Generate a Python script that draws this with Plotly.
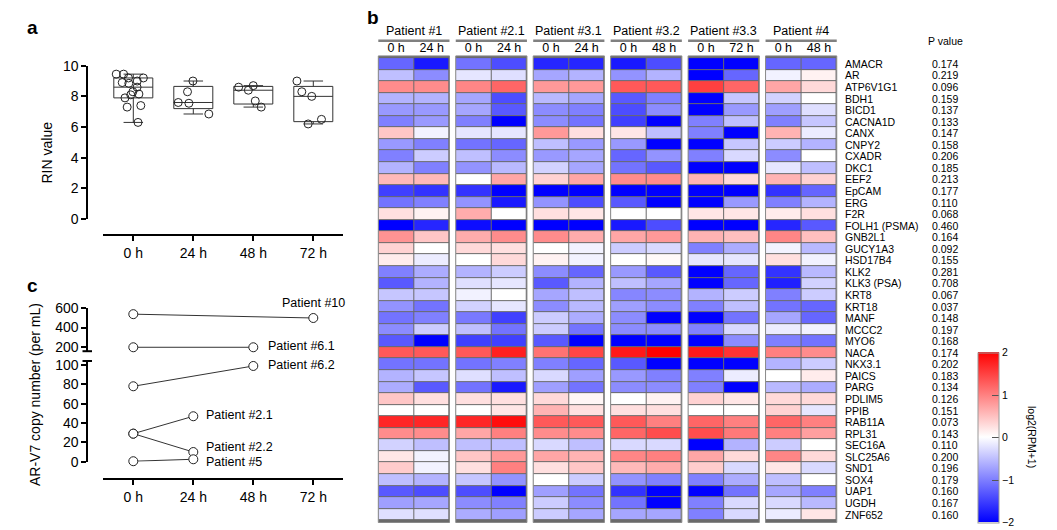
import plotly.graph_objects as go

W, H = 1057, 530
def fx(p): return p / W
def fy(p): return 1 - p / H

FONT = "Liberation Sans, Arial, sans-serif"

# ---------------- Panel a data ----------------
times = ['0 h', '24 h', '48 h', '72 h']
rin_0h = [9.45, 9.2, 8.9, 8.85, 9.0, 9.2, 9.45, 8.3, 8.1, 8.15, 8.6, 7.9, 7.4, 7.3, 6.3]
rin_24h = [9.0, 8.3, 7.6, 7.55, 6.85]
rin_48h = [8.6, 8.4, 8.7, 7.7, 7.3]
rin_72h = [9.0, 8.3, 8.0, 6.5, 6.2]

# ---------------- Panel c data ----------------
arv7_patients = ['Patient #10', 'Patient #6.1', 'Patient #6.2', 'Patient #2.1', 'Patient #2.2', 'Patient #5']
arv7_times = [['0 h', '72 h'], ['0 h', '48 h'], ['0 h', '48 h'], ['0 h', '24 h'], ['0 h', '24 h'], ['0 h', '24 h']]
arv7_values = [[540, 500], [195, 195], [78, 99], [29, 47], [29, 10], [0.5, 2.5]]

# ---------------- Panel b data ----------------
genes = ['AMACR', 'AR', 'ATP6V1G1', 'BDH1', 'BICD1', 'CACNA1D', 'CANX', 'CNPY2', 'CXADR', 'DKC1',
         'EEF2', 'EpCAM', 'ERG', 'F2R', 'FOLH1 (PSMA)', 'GNB2L1', 'GUCY1A3', 'HSD17B4', 'KLK2', 'KLK3 (PSA)',
         'KRT8', 'KRT18', 'MANF', 'MCCC2', 'MYO6', 'NACA', 'NKX3.1', 'PAICS', 'PARG', 'PDLIM5',
         'PPIB', 'RAB11A', 'RPL31', 'SEC16A', 'SLC25A6', 'SND1', 'SOX4', 'UAP1', 'UGDH', 'ZNF652']
p_values = ['0.174', '0.219', '0.096', '0.159', '0.137', '0.133', '0.147', '0.158', '0.206', '0.185',
            '0.213', '0.177', '0.110', '0.068', '0.460', '0.164', '0.092', '0.155', '0.281', '0.708',
            '0.067', '0.037', '0.148', '0.197', '0.168', '0.174', '0.202', '0.183', '0.134', '0.126',
            '0.151', '0.073', '0.143', '0.110', '0.200', '0.196', '0.179', '0.160', '0.167', '0.160']
patients = ['Patient #1', 'Patient #2.1', 'Patient #3.1', 'Patient #3.2', 'Patient #3.3', 'Patient #4']
patient_times = [['0 h', '24 h'], ['0 h', '24 h'], ['0 h', '24 h'], ['0 h', '48 h'], ['0 h', '72 h'], ['0 h', '48 h']]

expr_p1 = [[-1.2, -1.8], [-0.5, -0.9], [0.9, 0.9], [-0.6, -0.6], [-0.8, -0.8], [-1.0, -0.8], [0.45, -0.1],
           [-0.8, -1.0], [-1.0, -0.4], [-0.6, -1.0], [0.55, 0.55], [-1.5, -1.6], [-1.1, -1.0], [0.25, 0.1],
           [-2.0, -1.7], [0.85, 0.45], [0.35, 0.0], [0.15, -0.15], [-1.0, -0.65], [-1.3, -0.6],
           [-0.45, -0.45], [-0.85, -1.1], [-1.1, -1.0], [-0.9, -0.4], [-1.3, -2.0], [1.3, 1.3],
           [-1.1, -1.1], [-0.6, -0.45], [-0.65, -1.3], [0.45, 0.25], [0.0, 0.0], [1.7, 1.7],
           [0.9, 0.9], [-0.35, -0.5], [0.2, -0.1], [0.4, -0.1], [-0.5, -0.6], [-1.3, -1.4],
           [-0.75, -0.7], [-0.25, -0.25]]
expr_p21 = [[-1.1, -1.4], [-0.2, -0.25], [0.95, 1.2], [-0.7, -1.4], [-0.7, -1.3], [-1.0, -2.0], [-0.2, -0.2],
            [-1.1, -1.2], [-0.5, -0.9], [-0.85, -0.55], [0.0, 0.7], [-1.6, -2.0], [-0.85, -1.8], [0.65, 0.0],
            [-1.9, -2.0], [0.65, 0.9], [0.3, 0.25], [0.0, 0.3], [-0.6, -0.4], [-0.25, -0.2],
            [-0.1, 0.0], [-0.35, -0.2], [-1.05, -1.5], [-0.5, -1.1], [-1.5, -1.5], [1.3, 1.75],
            [-1.1, -1.0], [-0.25, -0.5], [-1.1, -1.8], [0.25, 0.25], [0.0, 0.2], [1.7, 1.9],
            [0.7, 1.0], [-0.5, -0.5], [0.45, 0.8], [0.25, 1.0], [-0.45, -0.85], [-1.4, -2.0],
            [-0.9, -1.0], [-0.65, -0.75]]
expr_p31 = [[-1.7, -1.7], [-0.7, -0.6], [0.8, 0.8], [-0.55, -0.7], [-0.9, -1.0], [-0.9, -1.1], [0.8, 0.25],
            [-0.5, -0.8], [-0.8, -0.7], [-0.35, -0.7], [0.35, 0.7], [-2.0, -2.0], [-0.85, -1.4], [0.25, 0.2],
            [-2.0, -2.0], [0.9, 0.65], [0.0, -0.1], [0.1, -0.1], [-0.9, -1.2], [-1.3, -0.6],
            [-0.7, -0.5], [-0.9, -0.55], [-0.4, -0.65], [-0.4, -1.1], [-1.3, -2.0], [1.1, 1.45],
            [-1.0, -1.2], [-0.3, -0.75], [-0.75, -1.1], [0.3, 0.07], [0.6, 0.25], [1.3, 1.3],
            [0.9, 0.9], [-0.3, -0.5], [0.7, 0.6], [0.25, 0.45], [0.0, -0.4], [-0.75, -1.1],
            [-0.4, -0.9], [-0.4, -0.7]]
expr_p32 = [[-1.8, -1.4], [-0.85, -0.6], [1.3, 1.3], [-1.3, -1.0], [-1.4, -0.9], [-1.5, -2.0], [0.2, -0.5],
            [-0.8, -2.0], [-1.2, -0.85], [-1.1, -1.3], [0.9, 0.9], [-2.0, -2.0], [-1.3, -2.0], [0.0, 0.0],
            [-1.8, -1.4], [0.7, 0.8], [-0.4, -0.3], [0.0, 0.05], [-0.8, -1.3], [-0.5, -0.7],
            [-0.95, -0.9], [-0.75, -0.9], [-0.9, -2.0], [-0.9, -0.9], [-2.0, -2.0], [1.8, 2.0],
            [-1.3, -2.0], [-0.8, -1.0], [-0.9, -0.9], [0.0, 0.1], [0.25, 0.25], [1.3, 1.0],
            [1.2, 1.4], [-0.3, -0.3], [0.95, 1.0], [0.55, 0.65], [-0.85, -1.0], [-1.6, -2.0],
            [-1.1, -2.0], [-0.7, -0.7]]
expr_p33 = [[-2.0, -2.0], [-2.0, -1.2], [1.5, 1.2], [-2.0, -0.45], [-2.0, -0.8], [-1.0, -0.5], [-1.0, -2.0],
            [-2.0, -0.45], [-1.0, -0.3], [-2.0, -2.0], [0.6, 0.3], [-2.0, -2.0], [-2.0, -0.8], [0.2, 0.2],
            [-2.0, -2.0], [0.6, 0.5], [-1.0, -0.65], [-0.2, -0.2], [-2.0, -1.2], [-2.0, -1.2],
            [-0.6, -0.4], [-1.0, -0.5], [-2.0, -1.1], [-1.0, -0.3], [-2.0, -0.9], [1.8, 1.6],
            [-2.0, -2.0], [-1.0, -0.15], [-1.0, -2.0], [0.35, 0.2], [0.0, 0.0], [1.2, 1.0],
            [1.4, 1.05], [-2.0, -0.6], [0.7, 0.3], [0.4, -0.3], [-1.0, -0.65], [-2.0, -1.1],
            [-1.0, -0.3], [-1.0, -0.3]]
expr_p4 = [[-1.2, -1.2], [-0.1, 0.1], [0.7, 0.3], [-0.35, 0.0], [-0.75, -0.25], [-1.0, -0.45], [0.6, -0.15],
           [-0.4, -0.6], [-0.9, 0.0], [-0.2, -0.5], [0.6, 0.35], [-1.6, -1.2], [-1.0, -0.6], [0.15, 0.25],
           [-1.7, -1.3], [0.95, 0.5], [-0.1, -0.55], [0.25, -0.1], [-1.6, -0.55], [-1.75, -0.35],
           [-1.0, -0.4], [-1.1, -1.2], [-0.7, -1.2], [-0.15, -0.1], [-1.0, -1.1], [1.0, 0.9],
           [-0.6, -0.4], [0.0, 0.15], [-0.55, -0.65], [0.3, 0.3], [0.35, -0.2], [1.2, 1.0],
           [1.0, 0.75], [-0.4, 0.0], [0.95, 0.3], [0.2, -0.3], [-0.5, 0.0], [-0.7, -1.0],
           [-0.3, -0.55], [-0.15, 0.2]]
expr_all = [expr_p1, expr_p21, expr_p31, expr_p32, expr_p33, expr_p4]

fig = go.Figure()

# ---------------- Panel a ----------------
rin_x = []
rin_y = []
for t, vals in zip(times, [rin_0h, rin_24h, rin_48h, rin_72h]):
    rin_x += [t] * len(vals)
    rin_y += vals
fig.add_trace(go.Box(
    x=rin_x, y=rin_y, xaxis='x', yaxis='y',
    boxpoints='all', jitter=0.9, pointpos=0, width=0.65, whiskerwidth=0.5,
    quartilemethod='exclusive',
    fillcolor='rgba(0,0,0,0)', line=dict(color='#333333', width=1),
    marker=dict(symbol='circle-open', size=8, color='#222222', line=dict(width=1)),
    showlegend=False, hoverinfo='skip'))

# ---------------- Panel c ----------------
for name, tt, vv in zip(arv7_patients, arv7_times, arv7_values):
    upper = min(vv) > 100
    fig.add_trace(go.Scatter(
        x=tt, y=vv, xaxis='x2', yaxis='y3' if upper else 'y2',
        mode='lines+markers', cliponaxis=False,
        line=dict(color='#333333', width=1),
        marker=dict(symbol='circle', size=9, color='white', line=dict(color='#222222', width=1)),
        showlegend=False, hoverinfo='skip'))

label_shift = {
    'Patient #10': dict(xshift=0, yshift=15, xanchor='center'),
    'Patient #6.1': dict(xshift=13, yshift=1, xanchor='left'),
    'Patient #6.2': dict(xshift=13, yshift=1, xanchor='left'),
    'Patient #2.1': dict(xshift=11, yshift=1, xanchor='left'),
    'Patient #2.2': dict(xshift=11, yshift=5, xanchor='left'),
    'Patient #5': dict(xshift=11, yshift=-3, xanchor='left'),
}
annotations = []
for name, tt, vv in zip(arv7_patients, arv7_times, arv7_values):
    upper = min(vv) > 100
    s = label_shift[name]
    annotations.append(dict(x=tt[-1], y=vv[-1], xref='x2', yref='y3' if upper else 'y2',
                            text=name, showarrow=False, font=dict(size=12.5, family=FONT, color='black'),
                            xanchor=s['xanchor'], yanchor='middle', xshift=s['xshift'], yshift=s['yshift']))

shapes = []
# axis-break caps for panel c
shapes.append(dict(type='line', xref='paper', yref='y3 domain', x0=fx(82.5), x1=fx(92), y0=0, y1=0,
                   line=dict(color='black', width=2)))
shapes.append(dict(type='line', xref='paper', yref='y2 domain', x0=fx(82.5), x1=fx(92), y0=1, y1=1,
                   line=dict(color='black', width=2)))

# ---------------- Panel b (heatmaps) ----------------
group_left0 = 378.3
group_step = 77.45
group_w = 71.2
hm_top, hm_bot = 55.9, 522.5
for i, (pname, ptimes, expr) in enumerate(zip(patients, patient_times, expr_all)):
    xa = 'x%d' % (i + 3)
    fig.add_trace(go.Heatmap(
        z=expr, x=ptimes, y=genes, xaxis=xa, yaxis='y4', coloraxis='coloraxis',
        xgap=1, ygap=1, hoverinfo='skip'))
    left = group_left0 + i * group_step
    fig.layout['xaxis%d' % (i + 3)] = dict(
        domain=[fx(left), fx(left + group_w)], anchor='y4', side='top', type='category',
        showgrid=False, zeroline=False, showline=False, ticks='', automargin=False,
        tickfont=dict(size=12.5, family=FONT, color='black'), fixedrange=True)
    shapes.append(dict(type='rect', xref=xa + ' domain', yref='y4 domain', x0=0, x1=1, y0=0, y1=1,
                       fillcolor='#6a6a6a', line=dict(width=0), layer='below'))
    shapes.append(dict(type='rect', xref=xa + ' domain', yref='y4 domain', x0=0, x1=1, y0=0, y1=1,
                       fillcolor='rgba(0,0,0,0)', line=dict(color='#8a8a8a', width=1), layer='above'))
    shapes.append(dict(type='line', xref='paper', yref='paper', x0=fx(left), x1=fx(left + group_w),
                       y0=fy(40.7), y1=fy(40.7), line=dict(color='#808080', width=2.5)))
    annotations.append(dict(x=fx(left + group_w / 2), y=fy(31), xref='paper', yref='paper', text=pname,
                            showarrow=False, font=dict(size=12.5, family=FONT, color='black'),
                            xanchor='center', yanchor='middle'))

for g, p in zip(genes, p_values):
    annotations.append(dict(x=fx(842.5), y=g, xref='paper', yref='y4', text=g, showarrow=False,
                            font=dict(size=10.5, family=FONT, color='black'), xanchor='left', yanchor='middle'))
    annotations.append(dict(x=fx(929.5), y=g, xref='paper', yref='y4', text=p, showarrow=False,
                            font=dict(size=10.5, family=FONT, color='black'), xanchor='left', yanchor='middle'))
annotations.append(dict(x=fx(925.5), y=fy(40.5), xref='paper', yref='paper', text='P value', showarrow=False,
                        font=dict(size=10.5, family=FONT, color='black'), xanchor='left', yanchor='middle'))
annotations.append(dict(x=fx(1032), y=fy(437), xref='paper', yref='paper', text='log2(RPM+1)', showarrow=False,
                        textangle=90, font=dict(size=10.5, family=FONT, color='black'),
                        xanchor='center', yanchor='middle'))

# axis titles and panel letters
annotations.append(dict(x=fx(46), y=fy(152.5), xref='paper', yref='paper', text='RIN value', showarrow=False,
                        textangle=-90, font=dict(size=14, family=FONT, color='black'),
                        xanchor='center', yanchor='middle'))
annotations.append(dict(x=fx(35), y=fy(395), xref='paper', yref='paper', text='AR-V7 copy number (per mL)',
                        showarrow=False, textangle=-90, font=dict(size=14, family=FONT, color='black'),
                        xanchor='center', yanchor='middle'))
for letter, lx, ly in [('a', 32, 28), ('b', 373, 18), ('c', 32, 285)]:
    annotations.append(dict(x=fx(lx), y=fy(ly), xref='paper', yref='paper', text='<b>%s</b>' % letter,
                            showarrow=False, font=dict(size=19, family=FONT, color='black'),
                            xanchor='center', yanchor='middle'))

axis_common = dict(showgrid=False, zeroline=False, showline=True, linecolor='black', linewidth=2,
                   ticks='outside', ticklen=5, tickwidth=2, tickcolor='black', automargin=False,
                   tickfont=dict(size=14, family=FONT, color='black'), fixedrange=True)

lower_top_px = 361.0
lower_top_val = 100 * (461.7 - lower_top_px) / (461.7 - 365.0)

fig.update_layout(
    width=W, height=H, autosize=False, margin=dict(l=0, r=0, t=0, b=0, pad=0, autoexpand=False),
    paper_bgcolor='white', plot_bgcolor='white',
    font=dict(family=FONT, color='black'),
    xaxis=dict(domain=[fx(103.3), fx(343.3)], anchor='free', position=fy(235.3), type='category',
               categoryorder='array', categoryarray=times, range=[-0.5, 3.5], **axis_common),
    yaxis=dict(domain=[fy(219), fy(65.7)], anchor='free', position=fx(87.3), range=[0, 10],
               tickvals=[0, 2, 4, 6, 8, 10], **axis_common),
    xaxis2=dict(domain=[fx(103.3), fx(343.3)], anchor='free', position=fy(479.3), type='category',
                categoryorder='array', categoryarray=times, range=[-0.5, 3.5], **axis_common),
    yaxis2=dict(domain=[fy(461.7), fy(lower_top_px)], anchor='free', position=fx(87.3),
                range=[0, lower_top_val], tickvals=[0, 20, 40, 60, 80, 100], **axis_common),
    yaxis3=dict(domain=[fy(351.2), fy(308.4)], anchor='free', position=fx(87.3), range=[154, 600],
                tickvals=[200, 400, 600], **axis_common),
    yaxis4=dict(domain=[fy(hm_bot), fy(hm_top)], anchor='x3', type='category', categoryorder='array',
                categoryarray=genes, autorange='reversed', showticklabels=False, showgrid=False,
                zeroline=False, showline=False, ticks='', fixedrange=True, automargin=False),
    coloraxis=dict(cmin=-2, cmax=2,
                   colorscale=[[0, 'rgb(0,0,255)'], [0.5, 'rgb(255,255,255)'], [1, 'rgb(255,0,0)']],
                   colorbar=dict(x=fx(978.3), xanchor='left', y=fy(522.5), yanchor='bottom',
                                 len=(522.5 - 352.7) / H, lenmode='fraction', thickness=21,
                                 thicknessmode='pixels', xpad=0, ypad=0, outlinewidth=1,
                                 outlinecolor='#9a9a9a', ticks='inside', ticklen=7, tickcolor='#555555',
                                 tickvals=[-2, -1, 0, 1, 2], ticktext=['\u22122', '\u22121', '0', '1', '2'],
                                 tickfont=dict(size=10.5, family=FONT, color='black'))),
    shapes=shapes, annotations=annotations,
)

post = ("document.documentElement.style.margin='0';document.documentElement.style.overflow='hidden';"
        "document.body.style.margin='0';document.body.style.overflow='hidden';"
        "var gd=document.getElementById('{plot_id}');gd.style.position='fixed';"
        "gd.style.left='0px';gd.style.top='0px';")
fig.write_html("out.html", post_script=post,
               config={'responsive': False, 'displayModeBar': False, 'staticPlot': True})
